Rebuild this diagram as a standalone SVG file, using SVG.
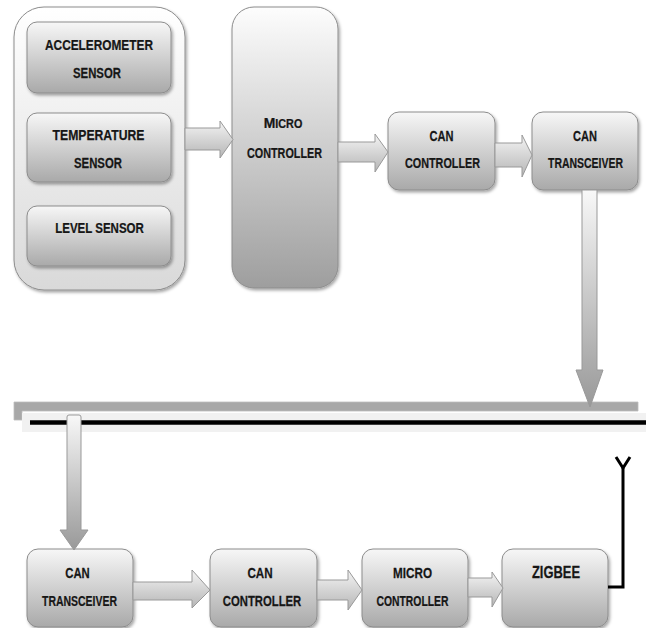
<svg xmlns="http://www.w3.org/2000/svg" width="646" height="628" viewBox="0 0 646 628">
<defs>
<linearGradient id="gBox" x1="0" y1="0" x2="0" y2="1">
<stop offset="0" stop-color="#f7f7f7"/><stop offset="1" stop-color="#a9a9a9"/>
</linearGradient>
<linearGradient id="gOuter" x1="0" y1="0" x2="0" y2="1">
<stop offset="0" stop-color="#ffffff"/><stop offset="1" stop-color="#d9d9d9"/>
</linearGradient>
<linearGradient id="gMicro" x1="0" y1="0" x2="0" y2="1">
<stop offset="0" stop-color="#fdfdfd"/><stop offset="1" stop-color="#9e9e9e"/>
</linearGradient>
<linearGradient id="gArrH" x1="0" y1="0" x2="0" y2="1">
<stop offset="0" stop-color="#f4f4f4"/><stop offset="1" stop-color="#b5b5b5"/>
</linearGradient>
<linearGradient id="gArrV" x1="0" y1="0" x2="0" y2="1">
<stop offset="0" stop-color="#f8f8f8"/><stop offset="0.75" stop-color="#b0b0b0"/><stop offset="1" stop-color="#999"/>
</linearGradient>
<filter id="sh" x="-20%" y="-20%" width="140%" height="140%">
<feDropShadow dx="1.5" dy="2" stdDeviation="1.5" flood-color="#000" flood-opacity="0.35"/>
</filter>
</defs>
<style>
.box{fill:url(#gBox);stroke:#8c8c8c;stroke-width:1;filter:url(#sh)}
.arr{fill:url(#gArrH);stroke:#999;stroke-width:1}
.darr{fill:url(#gArrV);stroke:#999;stroke-width:1}
text{font-family:"Liberation Sans","Arial",sans-serif;font-weight:bold;font-size:15.5px;fill:#161616;stroke:#161616;stroke-width:0.25;text-anchor:middle}
</style>
<rect width="646" height="628" fill="#fff"/>

<g id="sensors">
<rect x="14" y="7" width="171" height="283" rx="30" fill="url(#gOuter)" stroke="#8c8c8c" filter="url(#sh)"/>
</g>
<g id="accelerometer">
<rect class="box" x="27" y="22" width="144" height="71" rx="10"/>
<text transform="translate(99,50) scale(0.765,1)">ACCELEROMETER</text>
<text transform="translate(97,78) scale(0.733,1)">SENSOR</text>
</g>
<g id="temperature">
<rect class="box" x="27" y="113" width="144" height="69" rx="10"/>
<text transform="translate(98.5,140) scale(0.787,1)">TEMPERATURE</text>
<text transform="translate(98,168) scale(0.733,1)">SENSOR</text>
</g>
<g id="level">
<rect class="box" x="27" y="206" width="144" height="60" rx="10"/>
<text transform="translate(99.5,233) scale(0.743,1)">LEVEL SENSOR</text>
</g>
<g id="micro1">
<rect x="232" y="7" width="106" height="281" rx="22" fill="url(#gMicro)" stroke="#8c8c8c" filter="url(#sh)"/>
<text transform="translate(283,128) scale(0.9,1)"><tspan style="font-size:15.5px">M</tspan><tspan style="font-size:12px">ICRO</tspan></text>
<text transform="translate(284.5,158) scale(0.697,1)">CONTROLLER</text>
</g>
<g id="canctrl1">
<rect class="box" x="388" y="112" width="107" height="78" rx="11"/>
<text transform="translate(441.5,141) scale(0.714,1)">CAN</text>
<text transform="translate(442.5,168) scale(0.697,1)">CONTROLLER</text>
</g>
<g id="cantrx1">
<rect class="box" x="532" y="112" width="106" height="78" rx="11"/>
<text transform="translate(585,141) scale(0.714,1)">CAN</text>
<text transform="translate(585.5,168) scale(0.675,1)">TRANSCEIVER</text>
</g>

<g id="bus">
<path d="M14,402 H638 V411 H22 V420 H14 Z" fill="#a8a8a8" stroke="#bdbdbd" stroke-width="0.8"/>
<rect x="22" y="413" width="624" height="19" fill="#f1f1f1"/>
<line x1="30" y1="422.5" x2="646" y2="422.5" stroke="#000" stroke-width="4.5"/>
</g>

<g id="cantrx2">
<rect class="box" x="27" y="549" width="106" height="78" rx="11"/>
<text transform="translate(77.5,578) scale(0.73,1)">CAN</text>
<text transform="translate(79.5,606) scale(0.675,1)">TRANSCEIVER</text>
</g>
<g id="canctrl2">
<rect class="box" x="210" y="549" width="107" height="78" rx="11"/>
<text transform="translate(260,578) scale(0.75,1)">CAN</text>
<text transform="translate(262,606) scale(0.73,1)">CONTROLLER</text>
</g>
<g id="micro2">
<rect class="box" x="362" y="549" width="106" height="78" rx="11"/>
<text transform="translate(412.5,578) scale(0.755,1)">MICRO</text>
<text transform="translate(412.5,606) scale(0.67,1)">CONTROLLER</text>
</g>
<g id="zigbee">
<rect class="box" x="502" y="549" width="106" height="78" rx="11"/>
<text transform="translate(556,578) scale(0.76,1)" style="font-size:17px">ZIGBEE</text>
</g>

<g id="connectors">
<path class="arr" d="M185,128 H220 V121 L233,139.5 L220,158 V150 H185 Z"/>
<path class="arr" d="M338,142 H375 V134 L388,152 L375,172 V162 H338 Z"/>
<path class="arr" d="M495,143 H522 V135 L532,155 L522,177 V167 H495 Z"/>
<path class="darr" d="M582,190 H597 V370 H603 L590,407 L576,370 H582 Z"/>
<path class="darr" d="M67,417 Q67,415 69,415 H79 Q81,415 81,417 V530 H88 L74,550 L60,530 H67 Z"/>
<path class="arr" d="M133,582 H192 V570 L210,590 L192,608 V600 H133 Z"/>
<path class="arr" d="M317,580 H348 V570 L362,590 L348,610 V600 H317 Z"/>
<path class="arr" d="M468,578 H492 V572 L503,588 L492,607 V597 H468 Z"/>
<polyline points="608,587 623,587 623,468" fill="none" stroke="#000" stroke-width="3"/>
<polyline points="616,457 623,468 630,457" fill="none" stroke="#000" stroke-width="3"/>
</g>
</svg>
